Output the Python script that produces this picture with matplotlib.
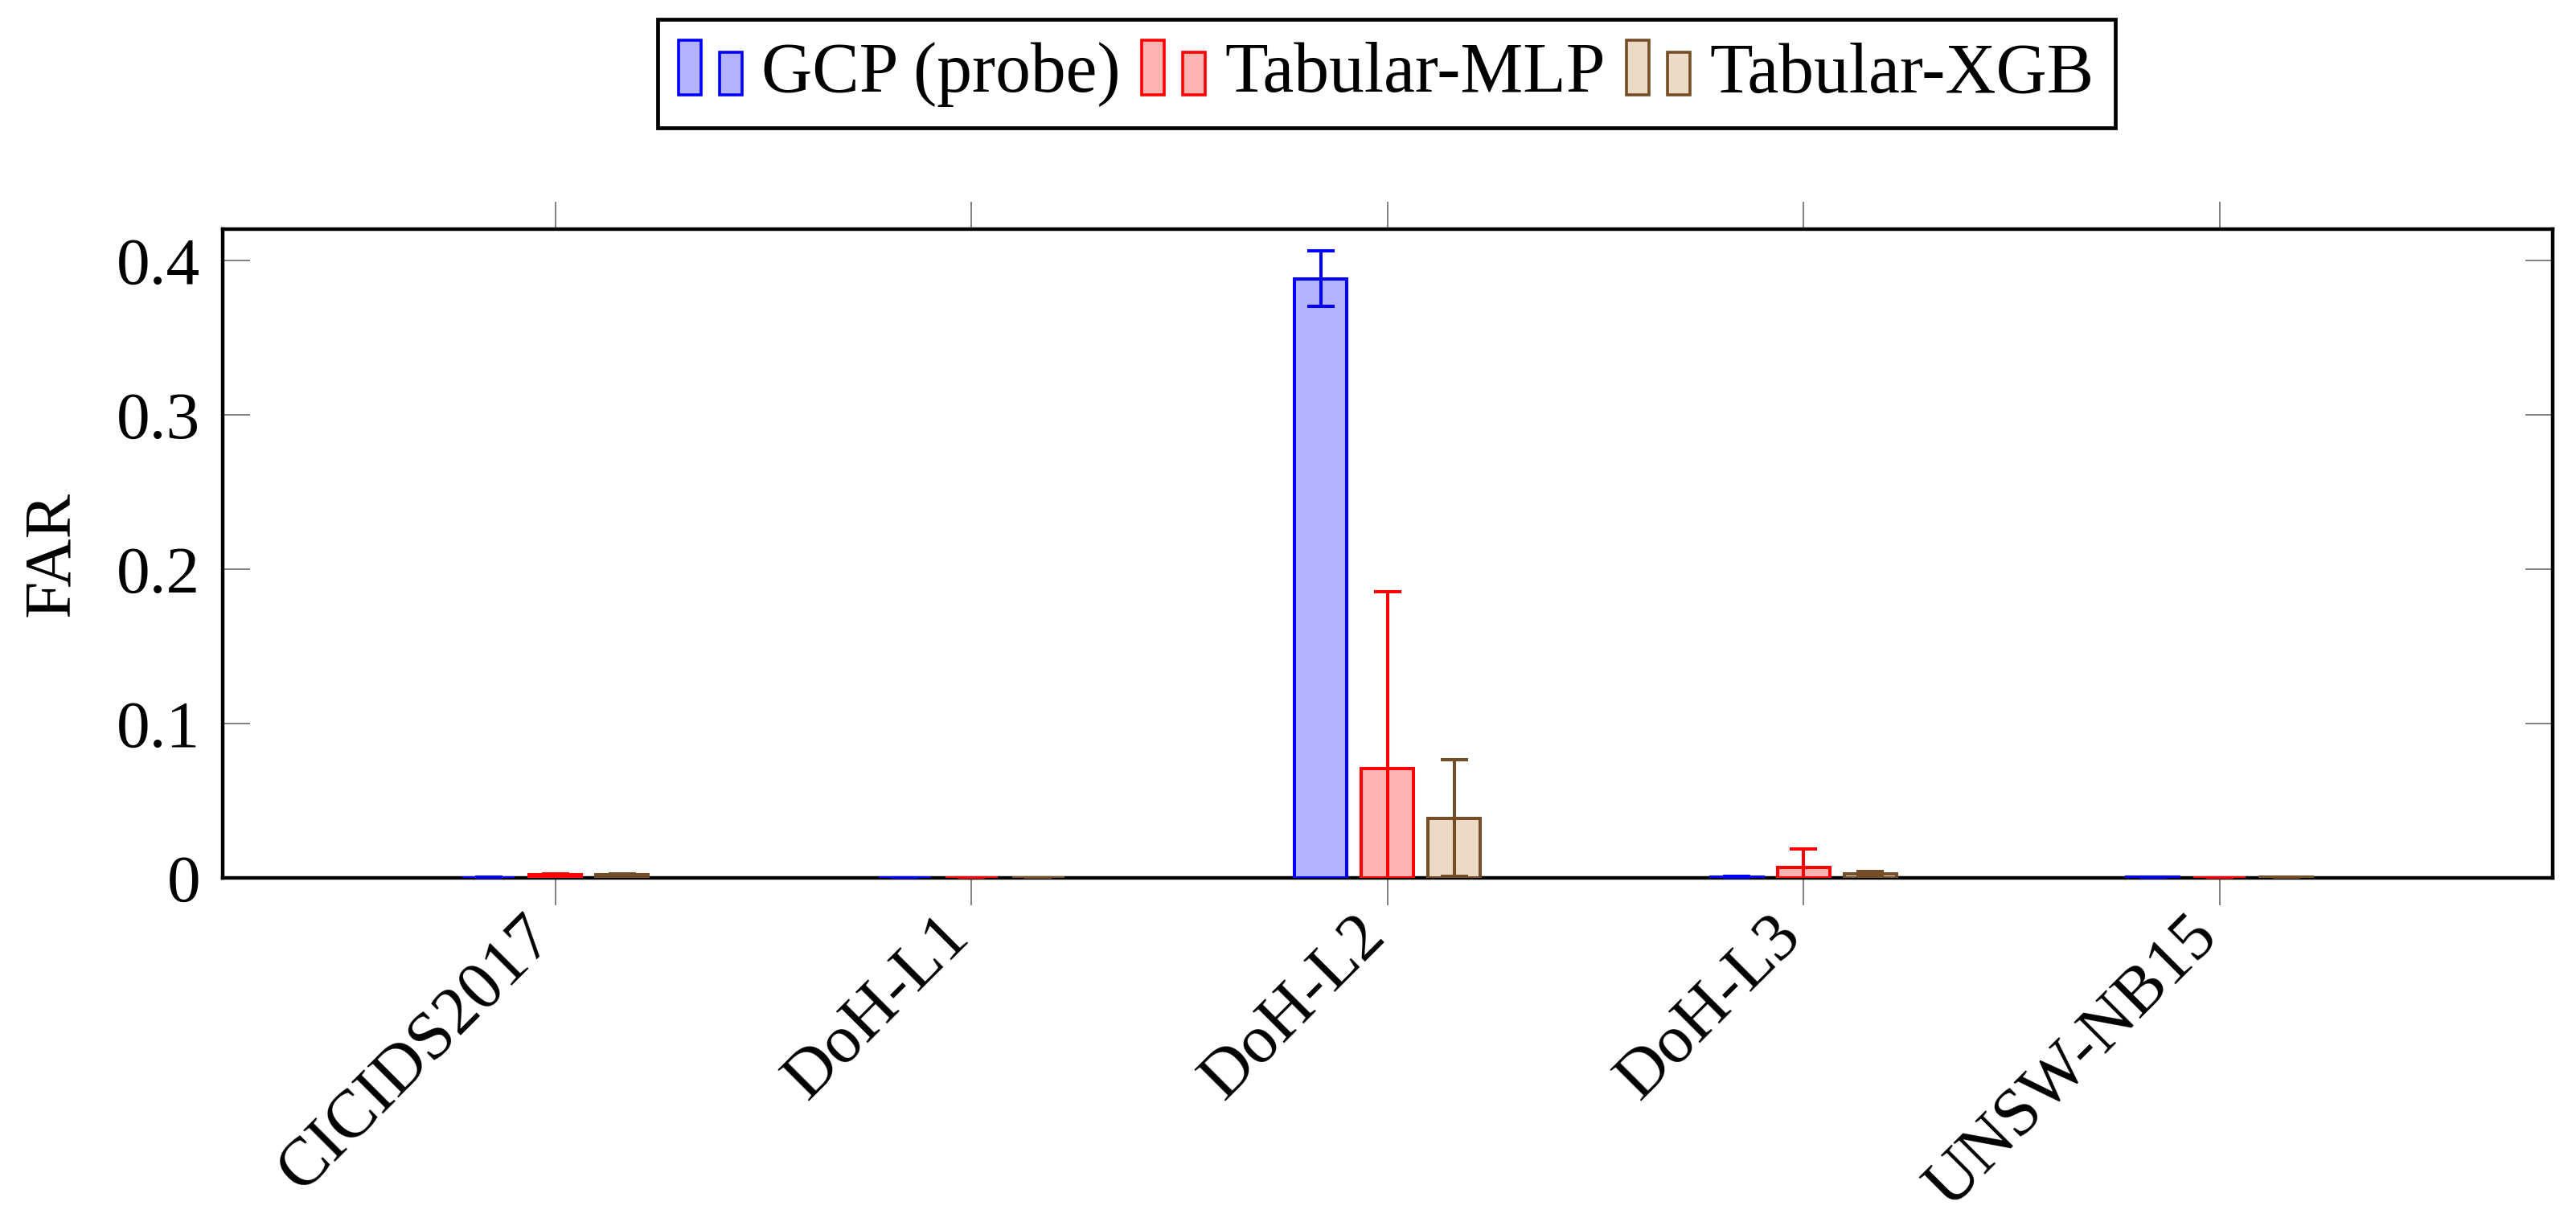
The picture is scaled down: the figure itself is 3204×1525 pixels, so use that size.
import numpy as np
import matplotlib
matplotlib.use("Agg")
import matplotlib.pyplot as plt
from matplotlib.patches import Rectangle
from matplotlib.legend_handler import HandlerBase

plt.rcParams['font.family'] = ['Liberation Serif', 'DejaVu Serif']

categories = ['CICIDS2017', 'DoH-L1', 'DoH-L2', 'DoH-L3', 'UNSW-NB15']
series_names = ['GCP (probe)', 'Tabular-MLP', 'Tabular-XGB']
gcp = [0.0002, 0.0001, 0.388, 0.0003, 0.0004]
gcp_err = [0.0003, 0.0001, 0.018, 0.0005, 0.0001]
mlp = [0.0020, 0.0001, 0.0705, 0.0068, 0.0001]
mlp_err = [0.0004, 0.0001, 0.115, 0.012, 0.0001]
xgb = [0.0020, 0.0001, 0.0387, 0.0025, 0.0004]
xgb_err = [0.0003, 0.0001, 0.0376, 0.0015, 0.0001]
yticks = [0, 0.1, 0.2, 0.3, 0.4]
ytick_labels = ['0', '0.1', '0.2', '0.3', '0.4']

edge_colors = ['#0000FF', '#FF0000', '#734D26']
face_colors = ['#B3B3FF', '#FFB3B3', '#ECD9C6']

FS = 30

fig = plt.figure(figsize=(16.025, 7.625), dpi=200)
ax = fig.add_axes([0.0864, 0.284, 0.9042, 0.529])

x = np.arange(len(categories))
offsets = [-0.1605, 0.0, 0.1605]
width = 0.1257
values = [gcp, mlp, xgb]
errors = [gcp_err, mlp_err, xgb_err]

for i in range(3):
    ax.bar(x + offsets[i], values[i], width, facecolor=face_colors[i],
           edgecolor=edge_colors[i], linewidth=1.45, zorder=3)
    ax.errorbar(x + offsets[i], values[i], yerr=errors[i], fmt='none',
                ecolor=edge_colors[i], elinewidth=1.45, capsize=6.1,
                capthick=1.45, zorder=4)

ax.set_xlim(-0.8, 4.8)
ax.set_ylim(0, 0.42)
ax.set_yticks(yticks)
ax.set_yticklabels(ytick_labels, fontsize=FS)
ax.set_xticks(x)
ax.set_xticklabels(categories, fontsize=FS + 0.5, rotation=45, ha='right',
                   va='baseline', rotation_mode='anchor')

ax.tick_params(axis='y', direction='in', left=True, right=True, length=12.2,
               width=0.7, color='#808080', pad=10)
ax.tick_params(axis='x', direction='out', bottom=True, top=True, length=12.2,
               width=0.7, color='#808080', pad=15)
for s in ax.spines.values():
    s.set_linewidth(1.6)
    s.set_zorder(2.5)

ax.set_ylabel('FAR', fontsize=FS)
ax.yaxis.set_label_coords(-0.060, 0.5)


class TwoBar(HandlerBase):
    def create_artists(self, legend, orig_handle, xdescent, ydescent,
                       width, height, fontsize, trans):
        fc = orig_handle.get_facecolor()
        ec = orig_handle.get_edgecolor()
        bw = width * 0.35
        r1 = Rectangle((-xdescent, -ydescent), bw, height, facecolor=fc,
                       edgecolor=ec, linewidth=1.3, transform=trans)
        r2 = Rectangle((-xdescent + width - bw, -ydescent), bw, height * 0.77,
                       facecolor=fc, edgecolor=ec, linewidth=1.3, transform=trans)
        return [r1, r2]


handles = [Rectangle((0, 0), 1, 1, facecolor=face_colors[i], edgecolor=edge_colors[i])
           for i in range(3)]
leg = fig.legend(handles, series_names, loc='center', bbox_to_anchor=(0.538, 0.94),
                 ncol=3, fontsize=FS + 1.5, frameon=True, fancybox=False,
                 edgecolor='black', framealpha=1, handlelength=0.9,
                 handleheight=0.82, handletextpad=0.28, columnspacing=0.3,
                 borderpad=0.3, handler_map={Rectangle: TwoBar()})
leg.get_frame().set_linewidth(1.7)

fig.savefig('out.png', dpi=200)
